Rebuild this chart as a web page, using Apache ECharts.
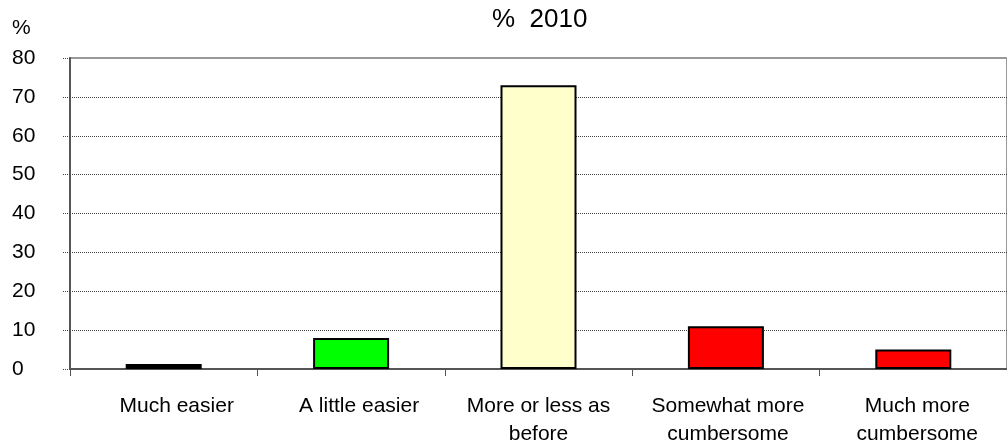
<!DOCTYPE html>
<html>
<head>
<meta charset="utf-8">
<script src="https://cdn.jsdelivr.net/npm/echarts@6/dist/echarts.min.js"></script>
<style>
  html, body { margin: 0; padding: 0; background: #fff; }
  #chart { width: 1007px; height: 448px; }
</style>
</head>
<body>
<div id="chart"></div>
<script>
// answers, 2010 survey
var categories = ['Much easier', 'A little easier', 'More or less as\nbefore', 'Somewhat more\ncumbersome', 'Much more\ncumbersome'];
var values = [1.3, 8, 73, 11, 5];
var barColors = ['#000000', '#00ff00', '#ffffcc', '#ff0000', '#ff0000'];
var yTicks = [0, 10, 20, 30, 40, 50, 60, 70, 80];

var font = 'Liberation Sans, Arial, sans-serif';
// excel puts the category labels a bit right of the slot centre
var labelNudge = [13, 8, 0, 2, 4];

var myChart = echarts.init(document.getElementById('chart'));

var option = {
    animation: false,
    title: [
        {
            text: '%  2010',
            left: 492, top: 7, padding: 0,
            textStyle: { fontFamily: font, fontSize: 26, fontWeight: 'normal', color: '#000' }
        },
        {
            text: '%',
            left: 12, top: 18, padding: 0,
            textStyle: { fontFamily: font, fontSize: 21, fontWeight: 'normal', color: '#000' }
        }
    ],
    grid: {
        left: 70, top: 58, width: 946, height: 314,
        show: true, borderColor: '#999', borderWidth: 2,
        containLabel: false
    },
    xAxis: {
        type: 'category',
        data: categories.map(function (c, i) {
            return { value: c, textStyle: { padding: [0, 0, 0, labelNudge[i] * 2] } };
        }),
        axisLine: { lineStyle: { color: '#555', width: 2 } },
        axisTick: { show: true, length: 7, alignWithLabel: false, lineStyle: { color: '#555', width: 1 } },
        axisLabel: { interval: 0, margin: 23, fontFamily: font, fontSize: 21, lineHeight: 28, color: '#000' }
    },
    yAxis: {
        type: 'value',
        min: yTicks[0], max: yTicks[yTicks.length - 1], interval: 10,
        axisLine: { show: true, lineStyle: { color: '#555', width: 2 } },
        axisTick: { show: true, length: 7, lineStyle: { color: '#444', type: 'dotted', width: 1 } },
        axisLabel: { align: 'left', margin: 58, fontFamily: font, fontSize: 21, color: '#000' },
        splitLine: { show: true, showMinLine: false, showMaxLine: false, lineStyle: { color: '#444', type: [1, 1], width: 1 } }
    },
    series: [{
        type: 'bar',
        barWidth: 76,
        data: values.map(function (v, i) {
            return { value: v, itemStyle: { color: barColors[i] } };
        }),
        itemStyle: { borderColor: '#000', borderWidth: 2 }
    }]
};
myChart.setOption(option);
</script>
</body>
</html>
